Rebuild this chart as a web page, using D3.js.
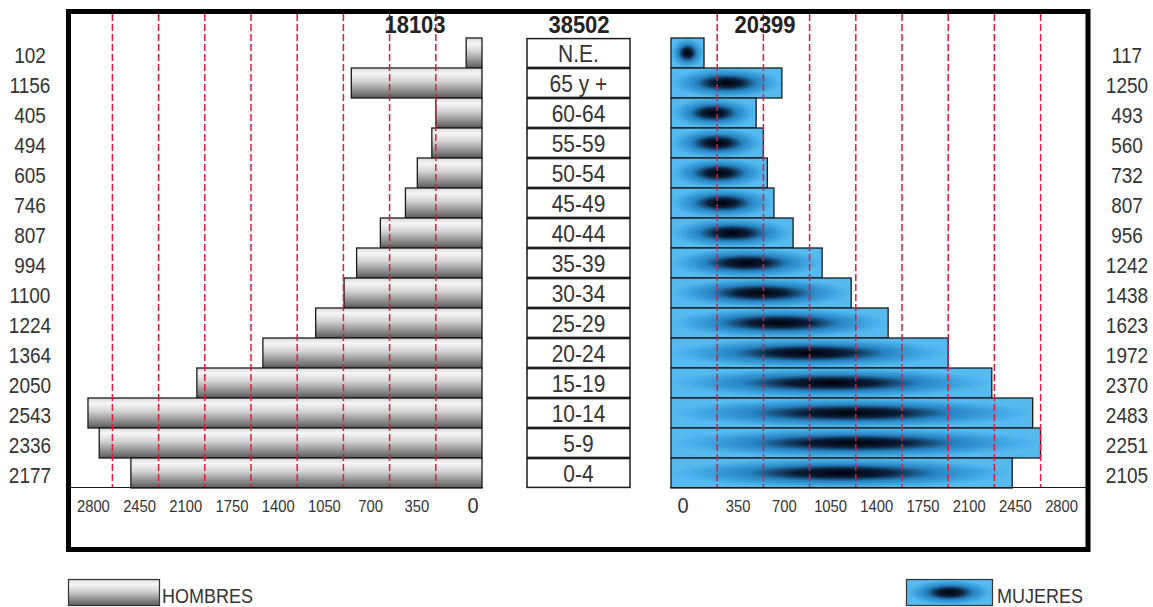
<!DOCTYPE html>
<html>
<head>
<meta charset="utf-8">
<script src="https://cdn.jsdelivr.net/npm/d3@7"></script>
<style>
  html, body { margin: 0; padding: 0; background: #fff; }
  svg { display: block; }
  text { font-family: "Liberation Sans", Arial, sans-serif; }
</style>
</head>
<body>
<svg id="chart" width="1153" height="607"></svg>
<script>
// ---------- DATA ----------
const categories = ["N.E.", "65 y +", "60-64", "55-59", "50-54", "45-49", "40-44", "35-39",
                    "30-34", "25-29", "20-24", "15-19", "10-14", "5-9", "0-4"];
// numbers printed at the sides
const menLabels   = [102, 1156, 405, 494, 605, 746, 807, 994, 1100, 1224, 1364, 2050, 2543, 2336, 2177];
const womenLabels = [117, 1250, 493, 560, 732, 807, 956, 1242, 1438, 1623, 1972, 2370, 2483, 2251, 2105];
// bar lengths as drawn in the picture (read against the axis)
const menBars   = [120, 990, 350, 380, 490, 580, 770, 950, 1045, 1260, 1660, 2160, 2985, 2900, 2660];
const womenBars = [250, 840, 645, 700, 730, 780, 925, 1145, 1365, 1645, 2100, 2430, 2740, 2800, 2585];
const tickValues = [0, 350, 700, 1050, 1400, 1750, 2100, 2450, 2800];
const legendLabels = ["HOMBRES", "MUJERES"];

// ---------- LAYOUT ----------
const svg = d3.select("#chart");

const xL = d3.scaleLinear().domain([0, 2800]).range([482, 112.4]);
const xR = d3.scaleLinear().domain([0, 2800]).range([671, 1040.6]);
const y = d3.scaleBand().domain(categories).range([38, 488]).paddingInner(0);

const defs = svg.append("defs");
// men: vertical grey gradient
const gM = defs.append("linearGradient").attr("id", "gMen")
  .attr("x1", 0).attr("y1", 0).attr("x2", 0).attr("y2", 1);
[[0, "#d8d8d8"], [0.18, "#f6f6f6"], [0.45, "#d2d2d2"], [1, "#5a5a5a"]]
  .forEach(([o, c]) => gM.append("stop").attr("offset", o).attr("stop-color", c));
// women: blue with dark center
const gW = defs.append("radialGradient").attr("id", "gWomen")
  .attr("cx", 0.5).attr("cy", 0.5).attr("r", 0.5).attr("fx", 0.5).attr("fy", 0.5);
[[0, "#000008"], [0.28, "#0a1f38"], [0.55, "#2783c2"], [0.85, "#44abe4"], [1, "#56baf0"]]
  .forEach(([o, c]) => gW.append("stop").attr("offset", o).attr("stop-color", c));

// helper for slightly tall text
function txt(g, x, yy, s, size, opts = {}) {
  const sy = opts.sy || 1.12;
  return g.append("text")
    .attr("transform", `translate(${x},${yy}) scale(1,${sy})`)
    .attr("text-anchor", opts.anchor || "middle")
    .attr("font-size", size)
    .attr("font-weight", opts.weight || "normal")
    .attr("fill", opts.fill || "#333")
    .text(s);
}

function drawGrid(g) {
  const gridTicks = tickValues.filter(d => d > 0);
  g.selectAll(".gl").data(gridTicks).join("line").attr("class", "gl")
    .attr("x1", d => xL(d)).attr("x2", d => xL(d))
    .attr("y1", 14).attr("y2", 487)
    .attr("stroke", "#e3183c").attr("stroke-width", 1.5).attr("stroke-dasharray", "7,3");
  g.selectAll(".gr").data(gridTicks).join("line").attr("class", "gr")
    .attr("x1", d => xR(d)).attr("x2", d => xR(d))
    .attr("y1", 14).attr("y2", 487)
    .attr("stroke", "#e3183c").attr("stroke-width", 1.5).attr("stroke-dasharray", "7,3");
}

// ---------- BARS ----------
const barsG = svg.append("g");
barsG.selectAll(".men").data(categories).join("rect").attr("class", "men")
  .attr("x", (d, i) => xL(menBars[i]))
  .attr("y", d => y(d))
  .attr("width", (d, i) => xL(0) - xL(menBars[i]))
  .attr("height", y.bandwidth())
  .attr("fill", "url(#gMen)")
  .attr("stroke", "#1a1a1a").attr("stroke-width", 1.3);

barsG.selectAll(".women").data(categories).join("rect").attr("class", "women")
  .attr("x", xR(0))
  .attr("y", d => y(d))
  .attr("width", (d, i) => xR(womenBars[i]) - xR(0))
  .attr("height", y.bandwidth())
  .attr("fill", "url(#gWomen)")
  .attr("stroke", "#1a1a1a").attr("stroke-width", 1.3);

// gridlines show through the bars in the original
drawGrid(svg.append("g"));

// baseline lines
svg.append("line").attr("x1", 71).attr("x2", xL(0) + 1).attr("y1", 487.5).attr("y2", 487.5)
  .attr("stroke", "#1a1a1a").attr("stroke-width", 1.2);
svg.append("line").attr("x1", xR(0) - 1).attr("x2", 1086).attr("y1", 487.5).attr("y2", 487.5)
  .attr("stroke", "#1a1a1a").attr("stroke-width", 1.2);

// ---------- MIDDLE LABEL BOXES ----------
const mid = svg.append("g");
mid.selectAll("rect").data(categories).join("rect")
  .attr("x", 527).attr("y", d => y(d) + 0.6)
  .attr("width", 103).attr("height", y.bandwidth() - 1.2)
  .attr("fill", "#fff").attr("stroke", "#1a1a1a").attr("stroke-width", 1.5);
categories.forEach(c => txt(mid, 578.5, y(c) + y.bandwidth() / 2 + 8.5, c, 21, { sy: 1.1 }));

// ---------- SIDE NUMBERS ----------
const side = svg.append("g");
categories.forEach((c, i) => {
  const cy = y(c) + y.bandwidth() / 2 + 10;
  txt(side, 30, cy, menLabels[i], 19, { sy: 1.15 });
  txt(side, 1127, cy, womenLabels[i], 19, { sy: 1.15 });
});

// ---------- TOTALS ----------
const menTotal = d3.sum(menLabels), womenTotal = d3.sum(womenLabels);
const tot = svg.append("g");
txt(tot, 415, 33, menTotal, 22, { weight: "bold", sy: 1.07, fill: "#222" });
txt(tot, 579, 33, menTotal + womenTotal, 22, { weight: "bold", sy: 1.07, fill: "#222" });
txt(tot, 765, 33, womenTotal, 22, { weight: "bold", sy: 1.07, fill: "#222" });

// ---------- AXIS TICK LABELS ----------
const ax = svg.append("g");
tickValues.forEach(v => {
  if (v === 0) {
    txt(ax, xL(0) - 9, 513, v, 20, { sy: 1.1 });
    txt(ax, xR(0) + 12, 513, v, 20, { sy: 1.1 });
  } else {
    txt(ax, xL(v) - 19, 512, v, 14.8, { sy: 1.1 });
    txt(ax, xR(v) + 21, 512, v, 14.8, { sy: 1.1 });
  }
});

// ---------- FRAME ----------
svg.append("rect").attr("x", 68.5).attr("y", 11.5).attr("width", 1019.5).attr("height", 538)
  .attr("fill", "none").attr("stroke", "#000").attr("stroke-width", 5);

// ---------- LEGEND ----------
const leg = svg.append("g");
leg.append("rect").attr("x", 68.5).attr("y", 579.5).attr("width", 91).attr("height", 26)
  .attr("fill", "url(#gMen)").attr("stroke", "#333").attr("stroke-width", 1.2);
txt(leg, 162, 603, legendLabels[0], 18, { anchor: "start", sy: 1.15 });
leg.append("rect").attr("x", 906.5).attr("y", 579.5).attr("width", 86).attr("height", 26)
  .attr("fill", "url(#gWomen)").attr("stroke", "#333").attr("stroke-width", 1.2);
txt(leg, 997, 603, legendLabels[1], 18, { anchor: "start", sy: 1.15 });
</script>
</body>
</html>
